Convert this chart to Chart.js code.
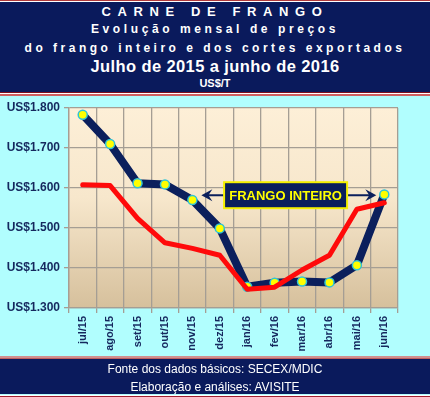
<!DOCTYPE html>
<html>
<head>
<meta charset="utf-8">
<script src="https://cdn.jsdelivr.net/npm/chart.js@4/dist/chart.umd.min.js"></script>
<style>
  html, body { margin: 0; padding: 0; }
  body { width: 430px; height: 397px; background: #b1fefe; position: relative; overflow: hidden;
         font-family: Arial, "Liberation Sans", sans-serif; }
  #grafico { position: absolute; left: 0; top: 0; }
  .faixa { position: absolute; left: 0; width: 430px; background: #0a1a5c; color: #fff; }
  #cabecalho { top: 0; height: 92px; border-top: 1px solid #b03a3a; box-shadow: inset 0 1px 0 #fff; }
  #cabecalho::after, #rodape::after { content: ""; position: absolute; left: 0; right: 0; height: 1px; background: #fff; }
  #cabecalho::after { bottom: -3px; border-top: 1px solid #7a1020; border-bottom: 2px solid #d06060; }
  #rodape { top: 358px; height: 35px; border-top: 1px solid #c06060; }
  #rodape::before { content: ""; position: absolute; left: 0; right: 0; top: -3px; height: 2px; background: #d09090; }
  #rodape::after { bottom: -4px; border-bottom: 2px solid #a02030; }
  .linha { position: absolute; left: 0; width: 430px; text-align: center; white-space: nowrap; font-weight: bold; }
</style>
</head>
<body>
<canvas id="grafico" width="430" height="397"></canvas>

<div class="faixa" id="cabecalho">
  <div class="linha" style="top:3px;line-height:16px;font-size:13px;letter-spacing:6.6px;">CARNE DE FRANGO</div>
  <div class="linha" style="top:20px;line-height:16px;font-size:12px;letter-spacing:3.6px;">Evolução mensal de preços</div>
  <div class="linha" style="top:39px;line-height:16px;font-size:12px;letter-spacing:3.5px;">do frango inteiro e dos cortes exportados</div>
  <div class="linha" style="top:56px;line-height:18px;font-size:16.5px;letter-spacing:0.4px;">Julho de 2015 a junho de 2016</div>
  <div class="linha" style="top:75px;line-height:14px;font-size:11px;">US$/T</div>
</div>

<div class="faixa" id="rodape">
  <div class="linha" style="top:2px;line-height:16px;font-size:12px;font-weight:normal;">Fonte dos dados básicos: SECEX/MDIC</div>
  <div class="linha" style="top:20px;line-height:16px;font-size:12px;font-weight:normal;">Elaboração e análises: AVISITE</div>
</div>

<script>
// meses (jul/15 a jun/16)
const meses = ["jul/15", "ago/15", "set/15", "out/15", "nov/15", "dez/15",
               "jan/16", "fev/16", "mar/16", "abr/16", "mai/16", "jun/16"];

// US$/t - frango inteiro (linha azul com marcadores)
const frangoInteiro = [1783, 1710, 1612, 1609, 1570, 1499, 1353, 1363, 1366, 1364, 1407, 1584];

// US$/t - cortes exportados (linha vermelha)
const cortes = [1608, 1606, 1524, 1463, 1449, 1432, 1347, 1352, 1395, 1432, 1547, 1563];

// eixo Y
const yMin = 1300;
const yMax = 1800;
const yPasso = 100;

// rótulo da seta
const rotuloSeta = "FRANGO INTEIRO";
const valorSeta = 1582;

const AZUL = "#0b1f5c";
const VERMELHO = "#ff0a0a";

function formataUS(v) {
  const mil = Math.floor(v / 1000);
  const resto = String(v % 1000).padStart(3, "0");
  return "US$" + mil + "." + resto;
}

// fundo degradê da área de plotagem
const fundoPlot = {
  id: "fundoPlot",
  beforeDraw(chart) {
    const { ctx, chartArea: a } = chart;
    const g = ctx.createLinearGradient(0, a.top, 0, a.bottom);
    g.addColorStop(0, "#fdefd7");
    g.addColorStop(0.45, "#f7e7cc");
    g.addColorStop(1, "#d6c09c");
    ctx.save();
    ctx.fillStyle = g;
    ctx.fillRect(a.left, a.top, a.right - a.left, a.bottom - a.top);
    ctx.restore();
  },
};

function pontaSeta(ctx, x, y, dir) {
  ctx.beginPath();
  ctx.moveTo(x, y);
  ctx.lineTo(x - dir * 11, y - 6);
  ctx.lineTo(x - dir * 7, y);
  ctx.lineTo(x - dir * 11, y + 6);
  ctx.closePath();
  ctx.fill();
}

// caixa "FRANGO INTEIRO" com setas
const rotuloFrango = {
  id: "rotuloFrango",
  afterDatasetsDraw(chart) {
    const { ctx } = chart;
    const xs = chart.scales.x;
    const ys = chart.scales.y;
    const pts = chart.getDatasetMeta(1).data;
    const y = ys.getPixelForValue(valorSeta);
    const cx = xs.getPixelForValue(7.4);
    const larg = 123, alt = 26;
    const xEsq = pts[4].x + 9;
    const xDir = pts[11].x - 8;

    ctx.save();
    ctx.strokeStyle = AZUL;
    ctx.fillStyle = AZUL;
    ctx.lineWidth = 2;
    ctx.beginPath();
    ctx.moveTo(cx - larg / 2, y);
    ctx.lineTo(xEsq + 6, y);
    ctx.moveTo(cx + larg / 2, y);
    ctx.lineTo(xDir - 6, y);
    ctx.stroke();
    pontaSeta(ctx, xEsq, y, -1);
    pontaSeta(ctx, xDir, y, 1);

    ctx.fillStyle = AZUL;
    ctx.fillRect(cx - larg / 2, y - alt / 2, larg, alt);
    ctx.strokeStyle = "#f5f000";
    ctx.lineWidth = 2;
    ctx.strokeRect(cx - larg / 2, y - alt / 2, larg, alt);

    ctx.fillStyle = "#ffff00";
    ctx.font = "bold 13px Arial, 'Liberation Sans', sans-serif";
    ctx.textAlign = "center";
    ctx.textBaseline = "middle";
    ctx.fillText(rotuloSeta, cx, y + 1);
    ctx.restore();
  },
};

new Chart(document.getElementById("grafico"), {
  type: "line",
  data: {
    labels: meses,
    datasets: [
      {
        label: "Cortes",
        data: cortes,
        borderColor: VERMELHO,
        borderWidth: 5,
        borderCapStyle: "round",
        borderJoinStyle: "round",
        pointRadius: 0,
        tension: 0,
        fill: false,
      },
      {
        label: "Frango inteiro",
        data: frangoInteiro,
        borderColor: AZUL,
        borderWidth: 8,
        borderCapStyle: "round",
        borderJoinStyle: "round",
        pointRadius: 4.5,
        pointBackgroundColor: "#ffff00",
        pointBorderColor: "#2fc4d6",
        pointBorderWidth: 1.5,
        tension: 0,
        fill: false,
      },
    ],
  },
  options: {
    responsive: false,
    animation: false,
    layout: { padding: { left: 0, top: 108, right: 32, bottom: 0 } },
    plugins: {
      legend: { display: false },
      tooltip: { enabled: false },
      title: { display: false },
    },
    scales: {
      x: {
        offset: true,
        afterFit(s) { s.height = 89; },
        grid: { offset: true, color: "#a59e94", lineWidth: 1.3, tickLength: 5 },
        border: { color: "#a59e94", width: 1.3 },
        ticks: {
          minRotation: 90,
          maxRotation: 90,
          padding: 3,
          color: "#15285e",
          font: { family: "Arial, 'Liberation Sans', sans-serif", size: 11, weight: "bold" },
        },
      },
      y: {
        min: yMin,
        max: yMax,
        afterFit(s) { s.width = 69; },
        grid: { color: "#a59e94", lineWidth: 1.3, tickLength: 5 },
        border: { color: "#a59e94", width: 1.3 },
        ticks: {
          stepSize: yPasso,
          padding: 4,
          color: "#15285e",
          font: { family: "Arial, 'Liberation Sans', sans-serif", size: 12, weight: "bold" },
          callback: (v) => formataUS(v),
        },
      },
    },
  },
  plugins: [fundoPlot, rotuloFrango],
});
</script>
</body>
</html>
